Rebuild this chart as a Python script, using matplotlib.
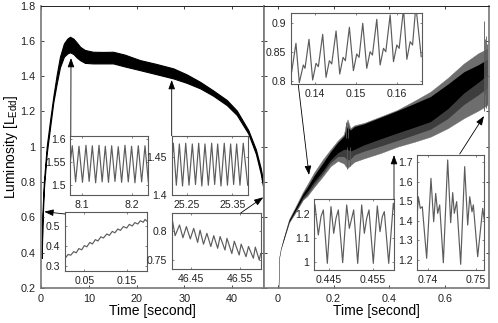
import matplotlib
matplotlib.use('Agg')
import matplotlib.pyplot as plt

plt.rcParams['font.family'] = ['Liberation Sans', 'DejaVu Sans']
plt.rcParams['mathtext.fontset'] = 'custom'
plt.rcParams['mathtext.rm'] = 'Liberation Sans'

W, H = 498, 323
FRAME = '#5a5a5a'
TRACE = '#5c5c5c'

# left panel envelope
left_t = [0.15, 0.3, 0.6, 1.19, 1.9, 2.57, 3.3, 3.97, 4.8, 5.5, 6.07, 6.8, 7.5, 8.2, 9.2, 10.9,
          13.0, 15.1, 17.5, 20.7, 24.0, 27.7, 30.5, 33.3, 36.0, 38.9, 41.0, 43.4, 45.0, 46.0, 46.6]
left_top = [0.40, 0.62, 0.80, 1.00, 1.15, 1.283, 1.41, 1.51, 1.585, 1.612, 1.623, 1.612, 1.590, 1.566,
            1.548, 1.538, 1.537, 1.538, 1.522, 1.491, 1.470, 1.444, 1.410, 1.368, 1.320, 1.265,
            1.205, 1.095, 0.985, 0.880, 0.795]
left_bot = [0.37, 0.56, 0.76, 0.96, 1.11, 1.25, 1.36, 1.45, 1.51, 1.528, 1.535, 1.525, 1.505, 1.49,
            1.475, 1.472, 1.472, 1.472, 1.455, 1.434, 1.412, 1.387, 1.362, 1.331, 1.290, 1.236,
            1.180, 1.075, 0.960, 0.850, 0.760]

# right panel bands
right_t = [0.002, 0.005, 0.01, 0.02, 0.04, 0.06, 0.09, 0.105, 0.129, 0.16, 0.189, 0.215, 0.237, 0.243,
           0.25, 0.26, 0.275, 0.309, 0.37, 0.428, 0.49, 0.548, 0.61, 0.668, 0.72, 0.752]
right_outer_top = [0.2, 0.376, 0.42, 0.48, 0.59, 0.65, 0.745, 0.785, 0.852, 0.925, 0.985, 1.035, 1.070,
                   1.120, 1.155, 1.105, 1.122, 1.135, 1.172, 1.208, 1.260, 1.312, 1.390, 1.472, 1.530, 1.555]
right_core_top = [0.2, 0.376, 0.42, 0.48, 0.585, 0.645, 0.735, 0.77, 0.835, 0.905, 0.972, 1.025, 1.06,
                  1.09, 1.115, 1.095, 1.115, 1.130, 1.168, 1.204, 1.245, 1.285, 1.355, 1.425, 1.465, 1.495]
right_core_bot = [0.2, 0.376, 0.42, 0.47, 0.575, 0.63, 0.715, 0.745, 0.80, 0.86, 0.925, 0.965, 0.985,
                  0.985, 0.985, 0.975, 0.985, 1.010, 1.045, 1.077, 1.110, 1.142, 1.215, 1.304, 1.365, 1.406]
right_mid_bot = [0.2, 0.376, 0.42, 0.47, 0.575, 0.625, 0.705, 0.73, 0.785, 0.845, 0.91, 0.945, 0.945,
                 0.935, 0.925, 0.930, 0.955, 0.975, 1.005, 1.035, 1.068, 1.100, 1.160, 1.240, 1.295, 1.335]
right_outer_bot = [0.2, 0.376, 0.42, 0.47, 0.57, 0.62, 0.70, 0.72, 0.77, 0.83, 0.89, 0.92, 0.905,
                   0.89, 0.88, 0.895, 0.915, 0.934, 0.965, 1.000, 1.028, 1.057, 1.105, 1.162, 1.205, 1.236]
# the jagged spikes at the end of the run and at the 0.25 s feature
spike_t = [0.243, 0.247, 0.252, 0.258, 0.741, 0.745, 0.749, 0.752]
spike_lo = [1.05, 0.875, 1.05, 0.89, 1.20, 1.30, 1.22, 1.24]
spike_hi = [1.14, 1.00, 1.13, 1.00, 1.71, 1.61, 1.63, 1.58]

# insets
a_t = [8.0757, 8.0797, 8.0865, 8.0933, 8.1004, 8.1075, 8.1139, 8.1203, 8.1271, 8.1339, 8.1403, 8.1467,
       8.1531, 8.1596, 8.1663, 8.173, 8.1798, 8.1866, 8.1933, 8.2, 8.2068, 8.2136, 8.2204, 8.2272, 8.2339]
a_v = [1.55, 1.586, 1.507, 1.585, 1.506, 1.587, 1.508, 1.586, 1.505, 1.587, 1.507, 1.585, 1.506, 1.586,
       1.508, 1.584, 1.506, 1.587, 1.507, 1.585, 1.505, 1.586, 1.507, 1.586, 1.507]
b_t = [25.217, 25.2206, 25.2272, 25.2338, 25.2408, 25.2478, 25.255, 25.2623, 25.2693, 25.2763, 25.2832,
       25.2901, 25.2975, 25.3048, 25.3114, 25.318, 25.3253, 25.3325, 25.3395, 25.3465, 25.3531, 25.3597,
       25.367, 25.3742, 25.384]
b_v = [1.445, 1.469, 1.413, 1.468, 1.412, 1.469, 1.413, 1.468, 1.414, 1.469, 1.412, 1.468, 1.413, 1.469,
       1.414, 1.468, 1.412, 1.469, 1.413, 1.468, 1.414, 1.468, 1.413, 1.469, 1.413]
c_t = [0.006, 0.012, 0.018, 0.025, 0.031, 0.037, 0.044, 0.05, 0.056, 0.063, 0.069, 0.076, 0.082, 0.089,
       0.095, 0.103, 0.109, 0.116, 0.122, 0.129, 0.135, 0.142, 0.15, 0.156, 0.163, 0.169, 0.176, 0.182,
       0.189, 0.193, 0.197]
c_v = [0.342, 0.358, 0.354, 0.372, 0.366, 0.387, 0.381, 0.402, 0.396, 0.418, 0.41, 0.432, 0.425, 0.446,
       0.44, 0.46, 0.453, 0.473, 0.466, 0.485, 0.478, 0.497, 0.49, 0.508, 0.5, 0.517, 0.51, 0.526, 0.519,
       0.533, 0.525]
d_t = [46.412, 46.417, 46.426, 46.433, 46.44, 46.448, 46.455, 46.463, 46.468, 46.475, 46.482, 46.49, 46.496,
       46.504, 46.509, 46.519, 46.523, 46.533, 46.538, 46.548, 46.552, 46.562, 46.567, 46.577, 46.581,
       46.589, 46.592]
d_v = [0.815, 0.7915, 0.8097, 0.788, 0.807, 0.786, 0.804, 0.78, 0.801, 0.777, 0.7955, 0.773, 0.7915, 0.77,
       0.79, 0.767, 0.787, 0.761, 0.782, 0.7585, 0.777, 0.7556, 0.773, 0.753, 0.772, 0.75, 0.761]
e_t = [0.1343, 0.13534, 0.13616, 0.13714, 0.13755, 0.13853, 0.13943, 0.14025, 0.14082, 0.14188, 0.1427,
       0.14351, 0.14409, 0.14515, 0.14605, 0.14686, 0.14743, 0.14841, 0.14939, 0.15021, 0.15078, 0.15168,
       0.15266, 0.15348, 0.15405, 0.15511, 0.15593, 0.15675, 0.15732, 0.15838, 0.1592, 0.16002, 0.16059,
       0.16165, 0.16247, 0.16328, 0.16386, 0.16467, 0.16598]
e_v = [0.8162, 0.8653, 0.7971, 0.8277, 0.822, 0.8722, 0.8017, 0.8306, 0.8248, 0.8809, 0.8064, 0.8352,
       0.8295, 0.8867, 0.8121, 0.841, 0.8352, 0.893, 0.8179, 0.8468, 0.841, 0.9, 0.822, 0.8508, 0.845,
       0.9069, 0.8277, 0.8566, 0.8508, 0.9144, 0.8335, 0.8624, 0.8566, 0.925, 0.8376, 0.8682, 0.8624, 0.93,
       0.8422]
f_t = [0.44189, 0.44264, 0.44325, 0.44378, 0.44469, 0.44552, 0.44614, 0.44666, 0.44719, 0.44818, 0.44909,
       0.44969, 0.45023, 0.45068, 0.45159, 0.4525, 0.4531, 0.45364, 0.45416, 0.45514, 0.45605, 0.45666,
       0.45719, 0.45764, 0.45864, 0.45969, 0.45992]
f_v = [1.238, 1.112, 1.189, 1.217, 0.993, 1.231, 1.119, 1.182, 1.217, 0.996, 1.238, 1.14, 1.182, 1.217,
       0.993, 1.238, 1.119, 1.182, 1.217, 0.993, 1.234, 1.126, 1.189, 1.21, 0.993, 1.245, 1.217]
g_t = [0.73785, 0.73806, 0.73847, 0.73889, 0.73923, 0.73979, 0.74068, 0.74124, 0.74166, 0.74207, 0.74248,
       0.74324, 0.74414, 0.74476, 0.74518, 0.74551, 0.746, 0.74683, 0.74766, 0.74828, 0.7487, 0.74917,
       0.74945, 0.75035, 0.75139, 0.75172]
g_v = [1.439, 1.524, 1.4645, 1.473, 1.371, 1.209, 1.618, 1.396, 1.541, 1.439, 1.482, 1.186, 1.712, 1.391,
       1.545, 1.439, 1.499, 1.178, 1.678, 1.379, 1.524, 1.447, 1.482, 1.217, 1.4645, 1.405]


def px_axes(left, top, right, bottom, **kw):
    return plt.gcf().add_axes([left / W, 1 - bottom / H, (right - left) / W, (bottom - top) / H], **kw)


def inset(rect, t, v, xlim, ylim, xticks, xlabels, yticks, ylabels):
    ax = px_axes(*rect)
    ax.plot(t, v, color=TRACE, lw=0.85, solid_joinstyle='round')
    ax.set_xlim(xlim)
    ax.set_ylim(ylim)
    ax.set_xticks(xticks, xlabels)
    ax.set_yticks(yticks, ylabels)
    ax.tick_params(direction='in', top=True, right=True, length=1.5, width=0.4, labelsize=7.6,
                   pad=3.5, colors='#222222')
    for s in ax.spines.values():
        s.set_color(FRAME)
        s.set_linewidth(0.8)
    return ax


fig = plt.figure(figsize=(W / 100, H / 100), dpi=100)

ax1 = px_axes(41, 5.5, 264, 288)
ax1.fill_between(left_t, left_bot, left_top, color='black', lw=0.8)
ax1.set_xlim(0, 46.7)
ax1.set_ylim(0.2, 1.8)
ax1.set_xticks([0, 10, 20, 30, 40])
ax1.set_yticks([0.2, 0.4, 0.6, 0.8, 1, 1.2, 1.4, 1.6, 1.8], ['0.2', '0.4', '0.6', '0.8', '1', '1.2', '1.4', '1.6', '1.8'])
ax1.set_xlabel('Time [second]', fontsize=10, labelpad=0.5)
ax1.set_ylabel(r'Luminosity [L$_{\mathrm{Edd}}$]', fontsize=10, labelpad=0)

ax2 = px_axes(264, 5.5, 489, 288)
ax2.fill_between(right_t, right_outer_bot, right_outer_top, color='#6e6e6e', lw=0.3)
ax2.vlines(spike_t, spike_lo, spike_hi, color='#5a5a5a', lw=0.6)
ax2.fill_between(right_t, right_mid_bot, right_core_bot, color='#3d3d3d', lw=0)
ax2.fill_between(right_t, right_core_bot, right_core_top, color='black', lw=0)
ax2.set_xlim(-0.05, 0.758)
ax2.set_ylim(0.2, 1.8)
ax2.set_xticks([0, 0.2, 0.4, 0.6], ['0', '0.2', '0.4', '0.6'])
ax2.set_yticks([0.2, 0.4, 0.6, 0.8, 1, 1.2, 1.4, 1.6, 1.8])
ax2.tick_params(axis='y', labelleft=False)
ax2.set_xlabel('Time [second]', fontsize=10, labelpad=0.5)

for ax in (ax1, ax2):
    ax.tick_params(direction='in', top=True, right=True, length=2.2, width=0.6, labelsize=7.8,
                   pad=4, colors='#222222')
    ax.spines['top'].set_color('#222222')
    ax.spines['top'].set_linewidth(0.7)
    for side in ('left', 'right', 'bottom'):
        ax.spines[side].set_color('#777777')
        ax.spines[side].set_linewidth(1.2)

inset((70.3, 135.7, 148.3, 194.7), a_t, a_v, (8.0757, 8.2339), (1.479, 1.608),
      [8.1, 8.2], ['8.1', '8.2'], [1.5, 1.55, 1.6], ['1.5', '1.55', '1.6'])
inset((171.7, 135.7, 247.7, 195), b_t, b_v, (25.217, 25.384), (1.4, 1.479),
      [25.25, 25.35], ['25.25', '25.35'], [1.4, 1.45], ['1.4', '1.45'])
inset((65, 212.3, 146.7, 271.3), c_t, c_v, (0.0045, 0.197), (0.2735, 0.5685),
      [0.05, 0.15], ['0.05', '0.15'], [0.3, 0.4, 0.5], ['0.3', '0.4', '0.5'])
inset((171.7, 213.3, 260.7, 269), d_t, d_v, (46.41, 46.592), (0.7346, 0.8297),
      [46.45, 46.55], ['46.45', '46.55'], [0.75, 0.8], ['0.75', '0.8'])
inset((291.3, 13.3, 421.7, 84.3), e_t, e_v, (0.1342, 0.1661), (0.7943, 0.9173),
      [0.14, 0.15, 0.16], ['0.14', '0.15', '0.16'], [0.8, 0.85, 0.9], ['0.8', '0.85', '0.9'])
inset((314.3, 199.3, 394.3, 270), f_t, f_v, (0.44173, 0.45991), (0.9652, 1.2616),
      [0.445, 0.455], ['0.445', '0.455'], [1, 1.1, 1.2], ['1', '1.1', '1.2'])
inset((417.3, 155.3, 484.3, 270), g_t, g_v, (0.73785, 0.75172), (1.149, 1.736),
      [0.74, 0.75], ['0.74', '0.75'], [1.2, 1.3, 1.4, 1.5, 1.6, 1.7], ['1.2', '1.3', '1.4', '1.5', '1.6', '1.7'])

# arrows are drawn in pixel space over everything
over = fig.add_axes([0, 0, 1, 1], facecolor='none')
over.set_xlim(0, W)
over.set_ylim(H, 0)
over.axis('off')
arrows = [((70.8, 135.7), (71, 58)), ((171.7, 135.7), (171.7, 80)), ((65, 214), (44.3, 211.7)),
          ((240.7, 213), (263.3, 197.3)), ((298.3, 85), (309, 175)), ((394, 199.3), (394, 155)),
          ((459.7, 154), (484, 116))]
for start, tip in arrows:
    over.annotate('', xy=tip, xytext=start,
                  arrowprops=dict(arrowstyle='-|>,head_length=0.55,head_width=0.2', color='black',
                                  lw=0.6, shrinkA=0, shrinkB=0, mutation_scale=10))

fig.savefig('out.png', dpi=100)
